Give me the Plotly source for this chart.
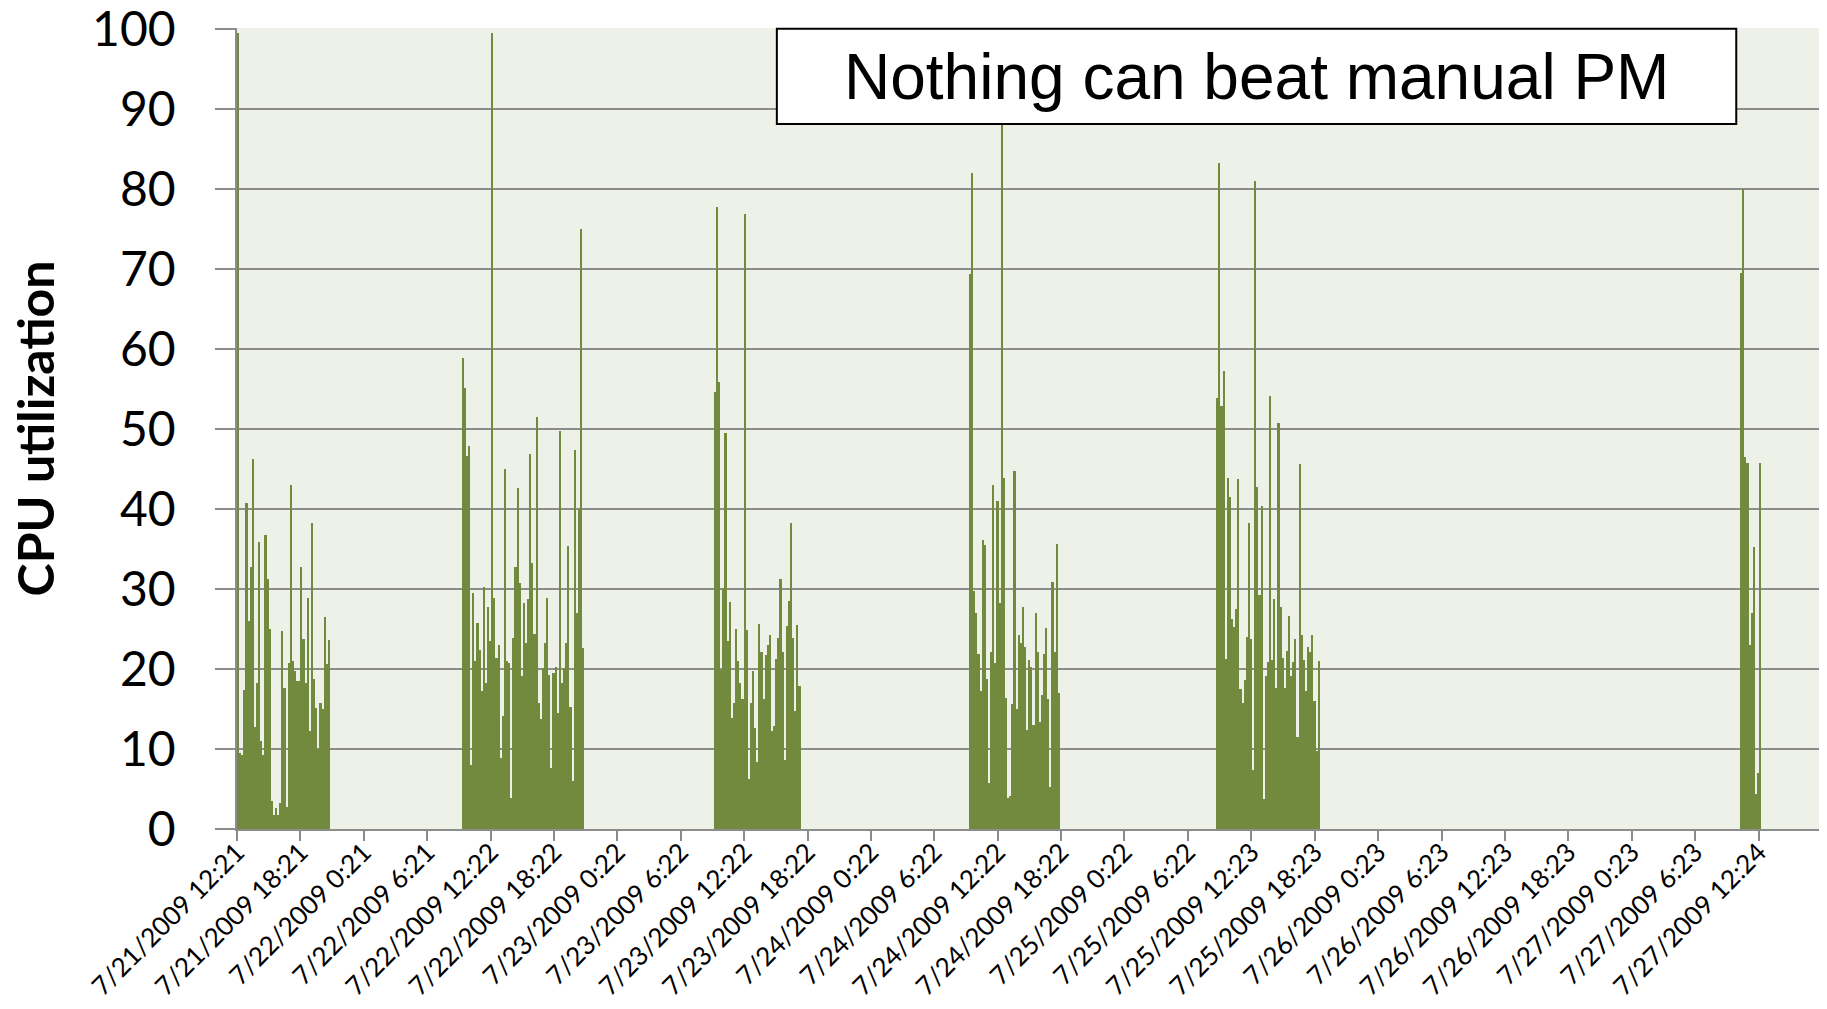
import pandas as pd
import plotly.graph_objects as go

# CPU utilization samples (one bar every 12 minutes), one list per busy period
c1_start = "2009-07-21 12:21"
c1 = [99.5, 9.5, 9.3, 17.4, 40.7, 26, 32.8, 46.3, 12.8, 18.2, 35.9, 11, 9.3, 36.8, 31.3, 25,
      3.5, 1.8, 2.6, 1.8, 3.3, 24.8, 17.6, 2.7, 20.8, 43, 21, 19.7, 18.5, 18.5, 32.7, 23.8,
      18.2, 28.9, 12.3, 38.3, 18.7, 15.1, 10, 15.8, 15, 26.5, 20.6, 23.6]

c2_start = "2009-07-22 09:37"
c2 = [58.9, 55.1, 46.6, 47.9, 8, 29.5, 21, 25.8, 22.4, 17.2, 30.3, 18.3, 27.8, 23.5, 99.5,
      28.9, 21.4, 23, 8.9, 14.1, 45, 21, 20.8, 3.9, 23.9, 32.8, 42.6, 30.7,
      19.1, 28.3, 23.3, 28.7, 46.9, 33.3, 24.4, 51.5, 15.8, 13.7, 20.1, 23.3, 28.9, 19.3,
      7.6, 19.5, 20.3, 14.5, 49.8, 18.3, 20.1, 23.3, 35.4, 15.3, 6, 47.4, 27, 40, 75, 22.6]

c3_start = "2009-07-23 09:30"
c3 = [54.6, 77.7, 55.8, 19.9, 30.1, 49.5, 23.5, 28.4, 13.9, 15.8, 25, 21, 18.2, 16.3, 76.8,
      24.9, 6.2, 15.8, 19.7, 12.6, 8.4, 25.6, 22.1, 16.2, 21.8, 23, 24.3, 12.3, 12.9, 21.3,
      23.9, 31.3, 22.1, 8.6, 25.4, 28.5, 38.2, 23.9, 14.7, 25.5, 17.9]

c4_start = "2009-07-24 09:39"
c4 = [69.4, 82, 29.7, 27, 21.9, 17.2, 36.1, 35.5, 18.7, 5.7, 22.1, 43, 20.8, 41, 28.3, 88,
      43.9, 16.4, 3.9, 4.1, 15.6, 44.7, 15, 24.2, 23.3, 27.7, 22.7, 12.4, 21.1, 20.2, 13, 27,
      22.1, 13.4, 16.7, 21.9, 25.1, 16.2, 5.2, 30.9, 22.1, 35.6, 17]

c5_start = "2009-07-25 09:03"
c5 = [53.8, 83.2, 52.8, 57.2, 21.3, 43.9, 41.5, 26.2, 25.2, 27.5, 43.7, 17.5, 15.8, 18.6, 24,
      38.3, 23.8, 7.4, 81, 42.8, 29.2, 40.4, 3.8, 19.1, 20.9, 54.1, 21.1, 28.7, 17.6, 50.7,
      27.7, 21.4, 17.6, 22.2, 26.6, 19.1, 20.9, 23.8, 11.5, 45.6, 24.2, 21.1, 17.2, 22.7,
      22.1, 24.3, 16, 9.7, 21]

c6_start = "2009-07-27 10:39"
c6 = [69.5, 80, 46.5, 45.8, 23, 27, 35.2, 4.4, 7, 45.7]

# axis labels every 6 hours
tick_labels = ["7/21/2009 12:21", "7/21/2009 18:21", "7/22/2009 0:21", "7/22/2009 6:21",
               "7/22/2009 12:22", "7/22/2009 18:22", "7/23/2009 0:22", "7/23/2009 6:22",
               "7/23/2009 12:22", "7/23/2009 18:22", "7/24/2009 0:22", "7/24/2009 6:22",
               "7/24/2009 12:22", "7/24/2009 18:22", "7/25/2009 0:22", "7/25/2009 6:22",
               "7/25/2009 12:23", "7/25/2009 18:23", "7/26/2009 0:23", "7/26/2009 6:23",
               "7/26/2009 12:23", "7/26/2009 18:23", "7/27/2009 0:23", "7/27/2009 6:23",
               "7/27/2009 12:24"]
axis_end = "7/27/2009 18:24"

y_ticks = [0, 10, 20, 30, 40, 50, 60, 70, 80, 90, 100]

title_text = "Nothing can beat manual PM"
y_title = "CPU utilization"

#build one long series of timestamps / values
step = "12min"
xs, ys = [], []
for start, vals in [(c1_start, c1), (c2_start, c2), (c3_start, c3),
                    (c4_start, c4), (c5_start, c5), (c6_start, c6)]:
    xs += list(pd.date_range(start, periods=len(vals), freq=step))
    ys += vals
df = pd.DataFrame({"time": xs, "cpu": ys})

tick_vals = pd.to_datetime(tick_labels + [axis_end], format="%m/%d/%Y %H:%M")
tick_text = tick_labels + [""]

grey = "#8C8C8C"
fig = go.Figure(go.Bar(
    x=df["time"], y=df["cpu"],
    width=pd.Timedelta(step).total_seconds() * 1000, offset=0,
    marker=dict(color="#718A3D", line=dict(width=0)),
))

# page body adds an 8px margin, so the figure is 8px smaller than the window
fig.update_layout(
    width=1819, height=1001,
    margin=dict(l=229, r=5, t=20, b=180, autoexpand=False),
    paper_bgcolor="white", plot_bgcolor="#EEF1E8",
    showlegend=False, bargap=0,
    font=dict(family="Lato", color="black"),
)
fig.update_xaxes(
    type="date", range=[tick_vals[0], tick_vals[-1]], automargin=False,
    tickmode="array", tickvals=tick_vals, ticktext=tick_text, tickangle=-45,
    tickfont=dict(family="Lato", size=26, color="black"), ticklabeloverflow="allow",
    ticks="outside", ticklen=10, tickwidth=1.5, tickcolor=grey, ticklabelstandoff=-14,
    showgrid=False, showline=True, linecolor=grey, linewidth=1.5,
)
fig.update_yaxes(
    range=[0, 100.1], automargin=False,
    tickmode="array", tickvals=y_ticks, ticktext=[str(v) for v in y_ticks],
    tickfont=dict(family="Lato", size=48, color="black"), ticklabeloverflow="allow",
    ticks="outside", ticklen=20, tickwidth=1.5, tickcolor=grey, ticklabelstandoff=30,
    showgrid=True, gridcolor=grey, gridwidth=1.5, zeroline=False,
    showline=True, linecolor=grey, linewidth=1.5,
)

#y axis title
fig.add_annotation(text="<b>" + y_title + "</b>", xref="paper", yref="paper",
                   x=-0.1275, y=0.5, xanchor="center", yanchor="middle", textangle=-90,
                   showarrow=False, font=dict(family="Lato", size=50, color="black"))

#boxed title inside the plot
fig.add_shape(type="rect", xref="paper", yref="paper", x0=0.3406, x1=0.9459, y0=0.88, y1=0.999,
              fillcolor="white", line=dict(color="black", width=2), layer="above")
fig.add_annotation(text=title_text, xref="paper", yref="paper", x=0.643, y=0.939,
                   xanchor="center", yanchor="middle", showarrow=False,
                   font=dict(family="Liberation Sans", size=64, color="black"))

fig.write_html("out.html")
